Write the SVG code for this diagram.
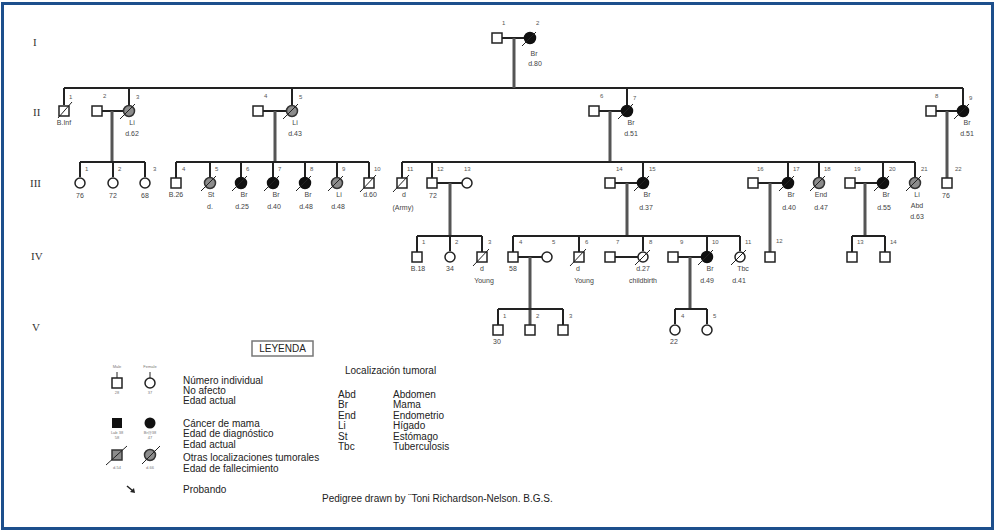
<svg xmlns="http://www.w3.org/2000/svg" width="996" height="532" viewBox="0 0 996 532">
<style>
.sq{fill:#fff;stroke:#222;stroke-width:1.5}
.ci{fill:#fff;stroke:#222;stroke-width:1.5}
.aff{fill:#111;stroke:#111;stroke-width:1.5}
.oth{fill:#8c8c8c;stroke:#333;stroke-width:1.5}
.sl{stroke:#222;stroke-width:1}
.ln{stroke:#222;stroke-width:2;fill:none}
.de{stroke:#555;stroke-width:3;fill:none}
.num{font-family:"Liberation Sans",Arial,sans-serif;font-size:6px;fill:#555}
.lab{font-family:"Liberation Sans",Arial,sans-serif;font-size:7px;fill:#444;text-anchor:middle}
.gen{font-family:"Liberation Serif",serif;font-size:11px;fill:#333}
.lg{font-family:"Liberation Sans",Arial,sans-serif;font-size:10px;fill:#222}
.tiny{font-family:"Liberation Sans",Arial,sans-serif;font-size:4px;fill:#777;text-anchor:middle}
</style>
<rect x="2.5" y="3.5" width="990" height="525" fill="#fff" stroke="#1d4f8c" stroke-width="3"/>
<g id="gen-labels">
<text class="gen" x="33" y="46">I</text>
<text class="gen" x="33" y="116">II</text>
<text class="gen" x="30" y="187">III</text>
<text class="gen" x="31" y="260">IV</text>
<text class="gen" x="32" y="331">V</text>
</g>
<g id="connectors">
<path class="ln" d="M502 38H525M64 88H963M64 88V105M129 88V105M292 88V105M627 88V105M963 88V105"/>
<path class="de" d="M514 38V88"/>
<path class="ln" d="M102 111H124M263 111H287M599 111H622M936 111H958"/>
<path class="de" d="M112 111V162M275 111V162M610 111V162M947 111V178"/>
<path class="ln" d="M80 162H145M80 162V177M113 162V177M145 162V177"/>
<path class="ln" d="M176 162H369M176 162V178M210 162V177M241 162V177M273 162V177M305 162V177M337 162V177M369 162V178"/>
<path class="ln" d="M402 162H915M402 162V178M432 162V178M643 162V177M788 162V177M819 162V177M883 162V177M915 162V177"/>
<path class="ln" d="M437 183H462M615 183H638M758 183H783M855 183H878"/>
<path class="de" d="M450 183V236M627 183V236M770 183V252M865 183V236"/>
<path class="ln" d="M417 236H482M417 236V252M450 236V251M482 236V252"/>
<path class="ln" d="M513 236H740M513 236V252M579 236V252M643 236V251M707 236V251M740 236V251"/>
<path class="ln" d="M852 236H885M852 236V252M885 236V252"/>
<path class="ln" d="M518 257H542M615 257H638M678 257H702"/>
<path class="de" d="M530 257V325M690 257V309"/>
<path class="ln" d="M498 309H563M498 309V325M563 309V325M675 309H707M675 309V324M707 309V324"/>
</g>
<g id="I-1"><rect class="sq" x="492" y="33" width="10" height="10"/><text class="num" x="502" y="25">1</text></g>
<g id="I-2"><circle class="aff" cx="530" cy="38" r="5.5"/><line class="sl" x1="522" y1="46" x2="536" y2="32"/><text class="num" x="536" y="25">2</text><text class="lab" x="534" y="56">Br</text><text class="lab" x="535" y="66">d.80</text></g>
<g id="II-1"><rect class="sq" x="59" y="106" width="10" height="10"/><line class="sl" x1="58" y1="118" x2="72" y2="102"/><text class="num" x="69" y="99">1</text><text class="lab" x="64" y="125">B.Inf</text></g>
<g id="II-2"><rect class="sq" x="92" y="106" width="10" height="10"/><text class="num" x="103" y="98">2</text></g>
<g id="II-3"><circle class="oth" cx="129" cy="111" r="5.5"/><line class="sl" x1="120" y1="119" x2="135" y2="104"/><text class="num" x="136" y="99">3</text><text class="lab" x="132" y="125">Li</text><text class="lab" x="132" y="136">d.62</text></g>
<g id="II-4"><rect class="sq" x="253" y="106" width="10" height="10"/><text class="num" x="264" y="98">4</text></g>
<g id="II-5"><circle class="oth" cx="292" cy="111" r="5.5"/><line class="sl" x1="283" y1="119" x2="298" y2="104"/><text class="num" x="299" y="99">5</text><text class="lab" x="295" y="125">Li</text><text class="lab" x="295" y="136">d.43</text></g>
<g id="II-6"><rect class="sq" x="589" y="106" width="10" height="10"/><text class="num" x="600" y="98">6</text></g>
<g id="II-7"><circle class="aff" cx="627" cy="111" r="5.5"/><line class="sl" x1="618" y1="119" x2="633" y2="104"/><text class="num" x="633" y="100">7</text><text class="lab" x="631" y="125">Br</text><text class="lab" x="631" y="136">d.51</text></g>
<g id="II-8"><rect class="sq" x="926" y="106" width="10" height="10"/><text class="num" x="935" y="98">8</text></g>
<g id="II-9"><circle class="aff" cx="963" cy="111" r="5.5"/><line class="sl" x1="954" y1="119" x2="969" y2="104"/><text class="num" x="969" y="100">9</text><text class="lab" x="967" y="125">Br</text><text class="lab" x="967" y="136">d.51</text></g>
<g id="III-1"><circle class="ci" cx="80" cy="183" r="5"/><text class="num" x="85" y="171">1</text><text class="lab" x="80" y="198">76</text></g>
<g id="III-2"><circle class="ci" cx="113" cy="183" r="5"/><text class="num" x="118" y="171">2</text><text class="lab" x="113" y="198">72</text></g>
<g id="III-3"><circle class="ci" cx="145" cy="183" r="5"/><text class="num" x="153" y="171">3</text><text class="lab" x="145" y="198">68</text></g>
<g id="III-4"><rect class="sq" x="171" y="178" width="10" height="10"/><text class="num" x="182" y="171">4</text><text class="lab" x="176" y="197">B.26</text></g>
<g id="III-5"><circle class="oth" cx="210" cy="183" r="5.5"/><line class="sl" x1="201" y1="191" x2="216" y2="176"/><text class="num" x="215" y="171">5</text><text class="lab" x="211" y="197">St</text><text class="lab" x="210" y="209">d.</text></g>
<g id="III-6"><circle class="aff" cx="241" cy="183" r="5.5"/><line class="sl" x1="232" y1="191" x2="247" y2="176"/><text class="num" x="246" y="171">6</text><text class="lab" x="244" y="197">Br</text><text class="lab" x="242" y="209">d.25</text></g>
<g id="III-7"><circle class="aff" cx="273" cy="183" r="5.5"/><line class="sl" x1="264" y1="191" x2="279" y2="176"/><text class="num" x="278" y="171">7</text><text class="lab" x="276" y="197">Br</text><text class="lab" x="274" y="209">d.40</text></g>
<g id="III-8"><circle class="aff" cx="305" cy="183" r="5.5"/><line class="sl" x1="296" y1="191" x2="311" y2="176"/><text class="num" x="310" y="171">8</text><text class="lab" x="308" y="197">Br</text><text class="lab" x="306" y="209">d.48</text></g>
<g id="III-9"><circle class="oth" cx="337" cy="183" r="5.5"/><line class="sl" x1="328" y1="191" x2="343" y2="176"/><text class="num" x="342" y="171">9</text><text class="lab" x="339" y="197">Li</text><text class="lab" x="338" y="209">d.48</text></g>
<g id="III-10"><rect class="sq" x="364" y="178" width="10" height="10"/><line class="sl" x1="360" y1="192" x2="376" y2="175"/><text class="num" x="374" y="171">10</text><text class="lab" x="370" y="197">d.60</text></g>
<g id="III-11"><rect class="sq" x="397" y="178" width="10" height="10"/><line class="sl" x1="393" y1="192" x2="409" y2="175"/><text class="num" x="407" y="171">11</text><text class="lab" x="404" y="197">d</text><text class="lab" x="403" y="210">(Army)</text></g>
<g id="III-12"><rect class="sq" x="427" y="178" width="10" height="10"/><text class="num" x="437" y="171">12</text><text class="lab" x="433" y="198">72</text></g>
<g id="III-13"><circle class="ci" cx="467" cy="183" r="5"/><text class="num" x="464" y="171">13</text></g>
<g id="III-14"><rect class="sq" x="605" y="178" width="10" height="10"/><text class="num" x="616" y="171">14</text></g>
<g id="III-15"><circle class="aff" cx="643" cy="183" r="5.5"/><line class="sl" x1="634" y1="191" x2="649" y2="176"/><text class="num" x="649" y="171">15</text><text class="lab" x="647" y="197">Br</text><text class="lab" x="646" y="210">d.37</text></g>
<g id="III-16"><rect class="sq" x="748" y="178" width="10" height="10"/><text class="num" x="757" y="171">16</text></g>
<g id="III-17"><circle class="aff" cx="788" cy="183" r="5.5"/><line class="sl" x1="779" y1="191" x2="794" y2="176"/><text class="num" x="793" y="171">17</text><text class="lab" x="791" y="197">Br</text><text class="lab" x="789" y="210">d.40</text></g>
<g id="III-18"><circle class="oth" cx="819" cy="183" r="5.5"/><line class="sl" x1="810" y1="191" x2="825" y2="176"/><text class="num" x="824" y="171">18</text><text class="lab" x="821" y="197">End</text><text class="lab" x="821" y="210">d.47</text></g>
<g id="III-19"><rect class="sq" x="845" y="178" width="10" height="10"/><text class="num" x="854" y="171">19</text></g>
<g id="III-20"><circle class="aff" cx="883" cy="183" r="5.5"/><line class="sl" x1="874" y1="191" x2="889" y2="176"/><text class="num" x="889" y="171">20</text><text class="lab" x="886" y="197">Br</text><text class="lab" x="884" y="210">d.55</text></g>
<g id="III-21"><circle class="oth" cx="915" cy="183" r="5.5"/><line class="sl" x1="906" y1="191" x2="921" y2="176"/><text class="num" x="921" y="171">21</text><text class="lab" x="917" y="197">Li</text><text class="lab" x="917" y="208">Abd</text><text class="lab" x="917" y="219">d.63</text></g>
<g id="III-22"><rect class="sq" x="942" y="178" width="10" height="10"/><text class="num" x="955" y="171">22</text><text class="lab" x="946" y="198">76</text></g>
<g id="IV-1"><rect class="sq" x="412" y="252" width="10" height="10"/><text class="num" x="422" y="244">1</text><text class="lab" x="418" y="271">B.18</text></g>
<g id="IV-2"><circle class="ci" cx="450" cy="257" r="5"/><text class="num" x="455" y="244">2</text><text class="lab" x="450" y="271">34</text></g>
<g id="IV-3"><rect class="sq" x="477" y="252" width="10" height="10"/><line class="sl" x1="473" y1="266" x2="489" y2="249"/><text class="num" x="488" y="244">3</text><text class="lab" x="482" y="271">d</text><text class="lab" x="484" y="283">Young</text></g>
<g id="IV-4"><rect class="sq" x="508" y="252" width="10" height="10"/><text class="num" x="519" y="244">4</text><text class="lab" x="513" y="271">58</text></g>
<g id="IV-5"><circle class="ci" cx="547" cy="257" r="5"/><text class="num" x="552" y="244">5</text></g>
<g id="IV-6"><rect class="sq" x="574" y="252" width="10" height="10"/><line class="sl" x1="570" y1="266" x2="586" y2="249"/><text class="num" x="585" y="244">6</text><text class="lab" x="578" y="271">d</text><text class="lab" x="584" y="283">Young</text></g>
<g id="IV-7"><rect class="sq" x="605" y="252" width="10" height="10"/><text class="num" x="616" y="244">7</text></g>
<g id="IV-8"><circle class="ci" cx="643" cy="257" r="5"/><line class="sl" x1="635" y1="265" x2="650" y2="250"/><text class="num" x="649" y="244">8</text><text class="lab" x="643" y="271">d.27</text><text class="lab" x="643" y="283">childbirth</text></g>
<g id="IV-9"><rect class="sq" x="668" y="252" width="10" height="10"/><text class="num" x="680" y="244">9</text></g>
<g id="IV-10"><circle class="aff" cx="707" cy="257" r="5.5"/><line class="sl" x1="698" y1="265" x2="713" y2="250"/><text class="num" x="712" y="244">10</text><text class="lab" x="710" y="271">Br</text><text class="lab" x="707" y="283">d.49</text></g>
<g id="IV-11"><circle class="ci" cx="740" cy="257" r="5"/><line class="sl" x1="731" y1="265" x2="746" y2="250"/><text class="num" x="745" y="244">11</text><text class="lab" x="743" y="271">Tbc</text><text class="lab" x="739" y="283">d.41</text></g>
<g id="IV-12"><rect class="sq" x="765" y="252" width="10" height="10"/><text class="num" x="776" y="243">12</text></g>
<g id="IV-13"><rect class="sq" x="847" y="252" width="10" height="10"/><text class="num" x="857" y="244">13</text></g>
<g id="IV-14"><rect class="sq" x="880" y="252" width="10" height="10"/><text class="num" x="890" y="244">14</text></g>
<g id="V-1"><rect class="sq" x="493" y="325" width="10" height="10"/><text class="num" x="503" y="318">1</text><text class="lab" x="497" y="344">30</text></g>
<g id="V-2"><rect class="sq" x="525" y="325" width="10" height="10"/><text class="num" x="536" y="318">2</text></g>
<g id="V-3"><rect class="sq" x="558" y="325" width="10" height="10"/><text class="num" x="569" y="318">3</text></g>
<g id="V-4"><circle class="ci" cx="675" cy="330" r="5"/><text class="num" x="681" y="318">4</text><text class="lab" x="674" y="344">22</text></g>
<g id="V-5"><circle class="ci" cx="707" cy="330" r="5"/><text class="num" x="713" y="318">5</text></g>
<g id="legend">
<rect x="252" y="341" width="61" height="15" fill="#fff" stroke="#777" stroke-width="1.5"/>
<text class="lg" x="282.5" y="352" text-anchor="middle" font-size="9">LEYENDA</text>
<text class="tiny" x="117" y="368">Male</text><text class="tiny" x="150" y="368">Female</text>
<rect class="sq" x="112" y="378" width="10" height="10"/><line class="sl" x1="117" y1="378" x2="117" y2="372"/>
<circle class="ci" cx="150" cy="383" r="5"/><line class="sl" x1="150" y1="378" x2="150" y2="372"/>
<text class="tiny" x="117" y="394">28</text><text class="tiny" x="150" y="394">37</text>
<text class="lg" x="183" y="384">Número individual</text>
<text class="lg" x="183" y="394">No afecto</text>
<text class="lg" x="183" y="404">Edad actual</text>
<rect x="112" y="418" width="10" height="10" fill="#111"/>
<circle cx="150" cy="423" r="5.5" fill="#111"/>
<text class="tiny" x="117" y="434">Lab 38</text><text class="tiny" x="117" y="439">58</text>
<text class="tiny" x="150" y="434">Br@38</text><text class="tiny" x="150" y="439">47</text>
<text class="lg" x="183" y="427">Cáncer de mama</text>
<text class="lg" x="183" y="437">Edad de diagnóstico</text>
<text class="lg" x="183" y="448">Edad actual</text>
<rect class="oth" x="112" y="450" width="10" height="10"/><line class="sl" x1="106" y1="465" x2="127" y2="446"/>
<circle class="oth" cx="150" cy="455" r="5.5"/><line class="sl" x1="142" y1="464" x2="160" y2="446"/>
<text class="tiny" x="117" y="469">d.54</text><text class="tiny" x="150" y="469">d.66</text>
<text class="lg" x="183" y="461">Otras localizaciones tumorales</text>
<text class="lg" x="183" y="472">Edad de fallecimiento</text>
<path d="M127 486L133 491" stroke="#222" stroke-width="1.5"/><path d="M135 493L130 492L134 488Z" fill="#222"/>
<text class="lg" x="183" y="493">Probando</text>
<text class="lg" x="345" y="374" font-size="9.3">Localización tumoral</text>
<text class="lg" x="338" y="398">Abd</text><text class="lg" x="393" y="398">Abdomen</text>
<text class="lg" x="338" y="408">Br</text><text class="lg" x="393" y="408">Mama</text>
<text class="lg" x="338" y="419">End</text><text class="lg" x="393" y="419">Endometrio</text>
<text class="lg" x="338" y="429">Li</text><text class="lg" x="393" y="429">Hígado</text>
<text class="lg" x="338" y="440">St</text><text class="lg" x="393" y="440">Estómago</text>
<text class="lg" x="338" y="450">Tbc</text><text class="lg" x="393" y="450">Tuberculosis</text>
<text class="lg" x="322" y="502" font-size="9.4">Pedigree drawn by ¨Toni Richardson-Nelson. B.G.S.</text>
</g>
</svg>
